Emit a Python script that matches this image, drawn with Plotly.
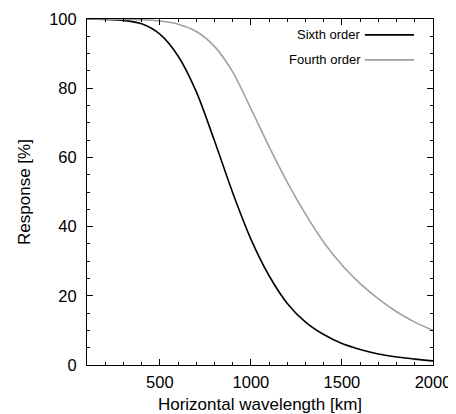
"""
Filter response curves: sixth order vs fourth order, as a function of
horizontal wavelength.
"""

import plotly.graph_objects as go

# Values
wavelength_km = [100, 200, 300, 400, 500, 600, 700, 800, 900, 1000,
                 1100, 1200, 1300, 1400, 1500, 1600, 1700, 1800, 1900, 2000]

sixth_order = [100.0, 99.9, 99.6, 98.6, 95.6, 89.3, 79.0, 64.8, 49.8, 36.4,
               25.8, 17.8, 12.4, 8.8, 6.2, 4.5, 3.2, 2.3, 1.7, 1.2]

fourth_order = [100.0, 100.0, 99.9, 99.8, 99.4, 98.5, 96.4, 92.1, 84.7, 74.1,
                63.1, 52.8, 43.6, 35.5, 28.9, 23.5, 19.1, 15.4, 12.4, 10.0]

x_ticks = [500, 1000, 1500, 2000]
y_ticks = [0, 20, 40, 60, 80, 100]

series = [
    ('Sixth order', sixth_order, '#000000'),
    ('Fourth order', fourth_order, '#a0a0a0'),
]

FONT = 'Liberation Sans, Arial, sans-serif'

fig = go.Figure()

for name, values, color in series:
    fig.add_trace(go.Scatter(
        x=wavelength_km,
        y=values,
        name=name,
        mode='lines',
        line=dict(color=color, width=1.6, shape='spline', smoothing=0.8),
        showlegend=False,
        hovertemplate='<b>' + name + '</b><br>%{x} km<br>%{y:.1f}%<extra></extra>'
    ))

# gnuplot-style key: text on the left, line sample on the right
key_rows = [0.954, 0.882]
for (name, values, color), ky in zip(series, key_rows):
    fig.add_annotation(
        xref='paper', yref='paper', x=0.799, y=ky,
        text=name, showarrow=False, xanchor='right', yanchor='middle',
        font=dict(family=FONT, size=13, color='#000000')
    )
    fig.add_shape(
        type='line', xref='paper', yref='paper',
        x0=0.803, x1=0.945, y0=ky, y1=ky,
        line=dict(color=color, width=1.6)
    )

axis_common = dict(
    showline=True, linecolor='#000000', linewidth=1, mirror='allticks',
    ticks='inside', ticklen=6, tickwidth=1, tickcolor='#000000',
    showgrid=False, zeroline=False, automargin=False,
    tickfont=dict(family=FONT, size=16.5, color='#000000'),
)

fig.update_xaxes(
    range=[100, 2000], tickvals=x_ticks, ticklabelstandoff=2,
    minor=dict(dtick=100, tick0=0, ticks='inside', ticklen=3, tickcolor='#000000', showgrid=False),
    title=dict(text='Horizontal wavelength [km]', font=dict(family=FONT, size=17, color='#000000'), standoff=8),
    **axis_common
)
fig.update_yaxes(
    range=[0, 100], tickvals=y_ticks, ticklabelstandoff=6,
    minor=dict(dtick=5, tick0=0, ticks='inside', ticklen=3, tickcolor='#000000', showgrid=False),
    title=dict(text='Response [%]', font=dict(family=FONT, size=17, color='#000000'), standoff=14),
    **axis_common
)

# page body adds an 8px offset, so the figure is 8px smaller than the window
fig.update_layout(
    width=448,
    height=406,
    margin=dict(l=79, r=23, t=11, b=49, autoexpand=False),
    paper_bgcolor='white',
    plot_bgcolor='white',
    showlegend=False,
)

fig.write_html('out.html')
